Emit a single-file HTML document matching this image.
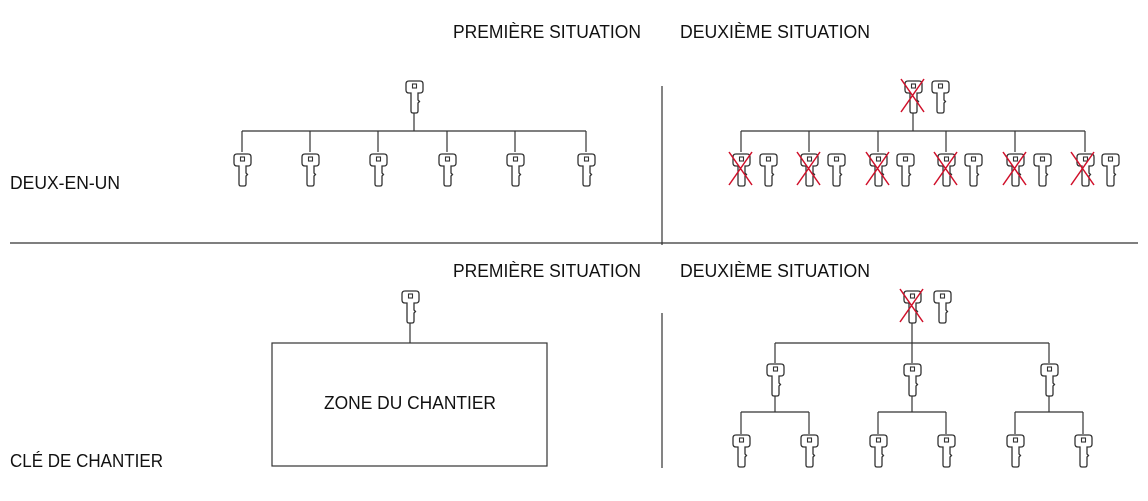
<!DOCTYPE html>
<html><head><meta charset="utf-8"><style>
html,body{margin:0;padding:0;background:#fff;}
svg{display:block;}
text{font-family:"Liberation Sans",sans-serif;font-size:18px;fill:#111;}
</style></head><body>
<svg width="1148" height="501" viewBox="0 0 1148 501" xmlns="http://www.w3.org/2000/svg">
<defs>
<symbol id="k" viewBox="-1 -1 19 35" width="19" height="35" overflow="visible">
<path d="M3,0 H14 Q17,0 17,3 V9 Q17,12 14,12 H12 V19 L13.5,20.5 L12,22 V30 Q12,32 10,32 H7 Q5,32 5,30 V12 H3 Q0,12 0,9 V3 Q0,0 3,0 Z" fill="#fff" stroke="#333" stroke-width="1.3"/>
<rect x="6.5" y="3" width="4" height="4" fill="none" stroke="#333" stroke-width="1.1"/>
</symbol>
<g id="x"><line x1="-3" y1="-1" x2="20" y2="32" stroke="#d0102a" stroke-width="1.5"/><line x1="20" y1="-1" x2="-3" y2="32" stroke="#d0102a" stroke-width="1.5"/></g>
</defs>
<g>
<text x="453" y="38" textLength="188" lengthAdjust="spacingAndGlyphs">PREMIÈRE SITUATION</text>
<text x="680" y="38" textLength="190" lengthAdjust="spacingAndGlyphs">DEUXIÈME SITUATION</text>
<text x="453" y="277" textLength="188" lengthAdjust="spacingAndGlyphs">PREMIÈRE SITUATION</text>
<text x="680" y="277" textLength="190" lengthAdjust="spacingAndGlyphs">DEUXIÈME SITUATION</text>
<text x="10" y="189" textLength="110" lengthAdjust="spacingAndGlyphs">DEUX-EN-UN</text>
<text x="10" y="467" textLength="153" lengthAdjust="spacingAndGlyphs">CLÉ DE CHANTIER</text>
</g>
<g stroke="#333" stroke-width="1.2" fill="none">
<line x1="10" y1="243" x2="1138" y2="243"/>
<line x1="662" y1="86" x2="662" y2="245"/>
<line x1="662" y1="313" x2="662" y2="468"/>
<line x1="414" y1="112" x2="414" y2="131"/>
<line x1="242" y1="131" x2="586" y2="131"/>
<line x1="242" y1="131" x2="242" y2="152"/><line x1="310" y1="131" x2="310" y2="152"/><line x1="378" y1="131" x2="378" y2="152"/><line x1="447" y1="131" x2="447" y2="152"/><line x1="515" y1="131" x2="515" y2="152"/><line x1="586" y1="131" x2="586" y2="152"/>
<line x1="913" y1="112" x2="913" y2="131"/>
<line x1="741" y1="131" x2="1085" y2="131"/>
<line x1="741" y1="131" x2="741" y2="152"/><line x1="809" y1="131" x2="809" y2="152"/><line x1="878" y1="131" x2="878" y2="152"/><line x1="946" y1="131" x2="946" y2="152"/><line x1="1015" y1="131" x2="1015" y2="152"/><line x1="1085" y1="131" x2="1085" y2="152"/>
<line x1="410" y1="322" x2="410" y2="343"/>
<rect x="272" y="343" width="275" height="123"/>
<line x1="912" y1="322" x2="912" y2="363"/>
<line x1="775" y1="343" x2="1049" y2="343"/>
<line x1="775" y1="343" x2="775" y2="363"/><line x1="1049" y1="343" x2="1049" y2="363"/>
<line x1="775" y1="394" x2="775" y2="412"/><line x1="912" y1="394" x2="912" y2="412"/><line x1="1049" y1="394" x2="1049" y2="412"/>
<line x1="741" y1="412" x2="809" y2="412"/><line x1="878" y1="412" x2="946" y2="412"/><line x1="1015" y1="412" x2="1083" y2="412"/>
<line x1="741" y1="412" x2="741" y2="434"/><line x1="809" y1="412" x2="809" y2="434"/><line x1="878" y1="412" x2="878" y2="434"/><line x1="946" y1="412" x2="946" y2="434"/><line x1="1015" y1="412" x2="1015" y2="434"/><line x1="1083" y1="412" x2="1083" y2="434"/>
</g>
<text x="410" y="409" text-anchor="middle" textLength="172" lengthAdjust="spacingAndGlyphs">ZONE DU CHANTIER</text>
<use href="#k" x="405" y="80"/>
<use href="#k" x="233" y="153"/><use href="#k" x="301" y="153"/><use href="#k" x="369" y="153"/><use href="#k" x="438" y="153"/><use href="#k" x="506" y="153"/><use href="#k" x="577" y="153"/>
<use href="#k" x="904" y="80"/><use href="#x" transform="translate(904,80)"/>
<use href="#k" x="931" y="80"/>
<g>
<use href="#k" x="732" y="153"/><use href="#x" transform="translate(732,153)"/><use href="#k" x="759" y="153"/>
<use href="#k" x="800" y="153"/><use href="#x" transform="translate(800,153)"/><use href="#k" x="827" y="153"/>
<use href="#k" x="869" y="153"/><use href="#x" transform="translate(869,153)"/><use href="#k" x="896" y="153"/>
<use href="#k" x="937" y="153"/><use href="#x" transform="translate(937,153)"/><use href="#k" x="964" y="153"/>
<use href="#k" x="1006" y="153"/><use href="#x" transform="translate(1006,153)"/><use href="#k" x="1033" y="153"/>
<use href="#k" x="1076" y="153"/><use href="#x" transform="translate(1074,153)"/><use href="#k" x="1101" y="153"/>
</g>
<use href="#k" x="401" y="290"/>
<use href="#k" x="903" y="290"/><use href="#x" transform="translate(903,290)"/><use href="#k" x="933" y="290"/>
<use href="#k" x="766" y="363"/><use href="#k" x="903" y="363"/><use href="#k" x="1040" y="363"/>
<use href="#k" x="732" y="434"/><use href="#k" x="800" y="434"/><use href="#k" x="869" y="434"/><use href="#k" x="937" y="434"/><use href="#k" x="1006" y="434"/><use href="#k" x="1074" y="434"/>
</svg>
</body></html>
